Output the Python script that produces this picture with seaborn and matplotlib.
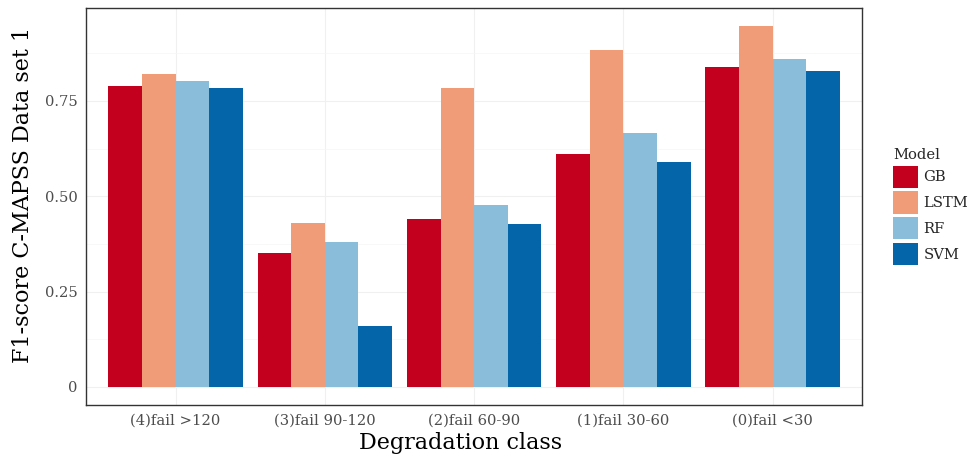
"""F1-score per degradation class on C-MAPSS data set 1"""
import pandas as pd
import matplotlib.pyplot as plt
import seaborn as sns
from matplotlib.ticker import MultipleLocator

# Values
classes = ["(4)fail >120", "(3)fail 90-120", "(2)fail 60-90", "(1)fail 30-60", "(0)fail <30"]
models = ["GB", "LSTM", "RF", "SVM"]
gb_scores = [0.790, 0.351, 0.440, 0.611, 0.838]
lstm_scores = [0.821, 0.429, 0.784, 0.882, 0.946]
rf_scores = [0.803, 0.381, 0.478, 0.667, 0.860]
svm_scores = [0.784, 0.159, 0.428, 0.589, 0.827]
y_ticks = [0, 0.25, 0.50, 0.75]
y_tick_labels = ["0", "0.25", "0.50", "0.75"]

colors = ["#c4001f", "#f19c78", "#8abdda", "#0466a9"]

# Long format table for seaborn
rows = []
for model, scores in zip(models, [gb_scores, lstm_scores, rf_scores, svm_scores]):
    for cls, val in zip(classes, scores):
        rows.append({"Degradation class": cls, "F1": val, "Model": model})
df = pd.DataFrame(rows)

sns.set_style("white")
plt.rcParams['font.family'] = ['DejaVu Serif']

fig = plt.figure(figsize=(9.72, 4.58), dpi=100)
ax = fig.add_axes([0.0885, 0.1157, 0.7985, 0.8668])

sns.barplot(data=df, x="Degradation class", y="F1", hue="Model",
            order=classes, hue_order=models, palette=colors,
            width=0.9, saturation=1, edgecolor="none", linewidth=0, ax=ax)

ax.set_xlim(-0.6, 4.6)
ax.set_ylim(-0.0473, 0.9933)
ax.set_yticks(y_ticks)
ax.set_yticklabels(y_tick_labels)
ax.yaxis.set_minor_locator(MultipleLocator(0.125))

# faint grid like theme_bw
ax.set_axisbelow(True)
ax.grid(True, which="major", color="#f0f0f0", linewidth=0.8)
ax.grid(True, which="minor", axis="y", color="#f6f6f6", linewidth=0.5)

for side in ["top", "right", "bottom", "left"]:
    ax.spines[side].set_visible(True)
    ax.spines[side].set_color("#333333")
    ax.spines[side].set_linewidth(1.0)

ax.tick_params(axis="both", which="major", length=3, width=0.8, color="#333333",
               labelsize=10.6, labelcolor="#4d4d4d", pad=3)
ax.tick_params(axis="y", which="minor", length=0)

ax.set_xlabel("Degradation class", fontsize=16, color="black")
ax.set_ylabel("F1-score C-MAPSS Data set 1", fontsize=16, color="black")
ax.xaxis.set_label_coords(0.482, -0.069)
ax.yaxis.set_label_coords(-0.067, 0.529)

sns.move_legend(ax, "center left", bbox_to_anchor=(1.023, 0.5), frameon=False,
                title="Model", fontsize=10.6, title_fontsize=10.6,
                handlelength=1.66, handleheight=1.93, labelspacing=0.25,
                handletextpad=0.4, alignment="left")

fig.savefig("out.png", dpi=100)
